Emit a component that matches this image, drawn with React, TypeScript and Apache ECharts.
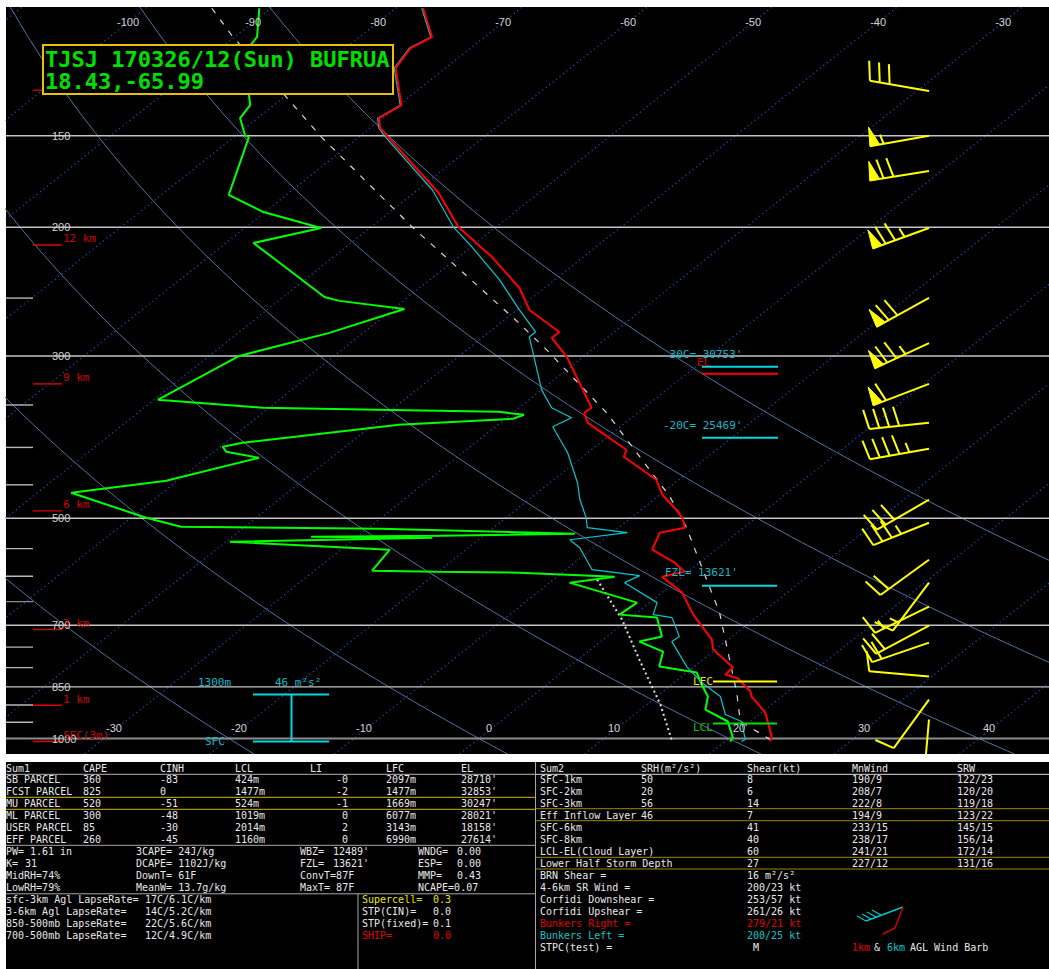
import React, { useEffect, useRef } from "react";
import * as echarts from "echarts";

// ---------------- data ----------------
// environmental temperature (red)
const tempP = [100.4, 109.9, 113.8, 121.2, 136.2, 141.9, 146.4, 149.7, 179.6, 199.9, 219.7, 242.2, 259.5, 278.1, 283.4, 300.8, 353.1, 358.7, 370.2, 403.0, 412.0, 442.9, 464.3, 486.7, 499.1, 515.0, 523.2, 551.9, 574.9, 591.4, 600.9, 631.8, 677.1, 732.5, 755.8, 799.9, 817.7, 828.0, 862.6, 876.3, 921.5, 993.7, 1009.5];
const tempT = [-77.8, -74.2, -74.8, -74.0, -69.8, -70.3, -69.2, -68.0, -58.0, -53.0, -47.3, -42.0, -39.0, -34.4, -34.4, -31.3, -24.2, -24.3, -23.0, -17.2, -16.7, -11.8, -9.8, -7.2, -5.9, -4.7, -6.2, -5.1, -2.0, -0.3, -1.6, 1.6, 4.7, 8.7, 9.8, 13.2, 13.3, 14.7, 17.0, 17.6, 20.3, 23.2, 23.6];
// wet-bulb temperature (cyan)
const wetP = [100.4, 109.9, 113.8, 121.2, 136.2, 141.9, 146.4, 149.7, 177.9, 199.9, 212.9, 236.1, 259.5, 278.1, 282.5, 333.7, 353.1, 364.4, 374.9, 406.8, 447.1, 471.6, 499.1, 515.0, 523.2, 534.9, 548.5, 587.8, 598.9, 612.3, 652.0, 677.1, 683.5, 725.6, 737.1, 797.4, 838.5, 876.3, 927.3, 947.9, 1003.1, 1009.5];
const wetT = [-77.9, -74.3, -74.9, -74.1, -69.9, -70.4, -69.3, -68.2, -58.8, -53.4, -49.9, -44.4, -39.8, -36.3, -36.3, -30.0, -27.4, -24.8, -25.4, -21.6, -17.8, -15.9, -13.6, -12.5, -8.8, -12.7, -11.1, -7.9, -3.5, -4.0, 0.6, 1.5, 3.3, 5.8, 5.7, 9.4, 12.2, 15.1, 17.3, 19.3, 21.4, 21.3];
// dewpoint (green)
const dewP = [100.4, 109.9, 112.8, 132.0, 136.2, 141.9, 149.7, 150.6, 180.7, 190.7, 200.5, 210.2, 221.7, 249.1, 252.2, 258.7, 278.9, 299.9, 344.4, 353.1, 355.4, 357.6, 361.0, 365.6, 372.6, 394.2, 399.2, 405.6, 413.3, 444.3, 461.3, 499.1, 513.4, 516.7, 524.8, 528.2, 529.8, 531.5, 538.2, 551.9, 589.6, 591.4, 593.3, 600.9, 612.3, 652.0, 677.1, 683.5, 725.6, 737.1, 760.6, 797.4, 812.6, 843.8, 876.3, 912.8, 947.9, 996.9, 1009.5];
const dewT = [-90.9, -88.2, -87.9, -83.0, -81.9, -81.4, -79.3, -78.8, -74.6, -70.1, -63.9, -67.8, -64.3, -56.7, -55.1, -49.1, -52.7, -57.6, -59.7, -50.5, -41.2, -31.2, -28.9, -29.4, -37.9, -48.6, -49.8, -49.0, -45.8, -50.9, -57.3, -48.8, -45.1, -29.0, -12.9, -23.5, -33.7, -23.9, -39.7, -26.1, -25.4, -20.1, -13.4, -5.4, -8.4, -1.0, -1.2, 2.1, 4.4, 3.1, 6.0, 7.2, 10.8, 12.4, 14.1, 15.2, 18.2, 20.2, 20.4];
// parcel trace (white dashed)
const parcelP = [100.4, 109.3, 135.3, 150.6, 199.9, 219.7, 267.8, 294.3, 358.7, 467.2, 513.4, 672.8, 865.3, 947.9, 1003.1];
const parcelT = [-94.7, -90.4, -78.8, -73.0, -56.7, -51.0, -39.1, -33.6, -22.5, -9.0, -4.7, 6.6, 16.0, 19.2, 23.4];
// downdraft trace (white dotted)
const downP = [606.5, 687.8, 780.0, 898.6, 1003.1];
const downT = [-6.5, -0.5, 4.9, 11.1, 15.5];
// wind barbs
const windP = [130.3, 150, 167.6, 200.5, 249.8, 288, 327.5, 370, 401.7, 471.6, 507, 569.6, 612.3, 660.3, 700.9, 739.4, 822.8, 884.6, 942];
const windDir = [280, 260, 261, 250, 241, 245, 249, 264, 260, 240, 248, 234, 217, 244, 242, 251, 275, 216, 185];
const windSpd = [30, 55, 70, 75, 70, 75, 60, 40, 45, 30, 35, 20, 15, 15, 20, 20, 10, 10, 10];
// reference lines / ticks
const isobarMajor = [150, 200, 300, 500, 700, 850];
const isobarMinor = [250, 350, 400, 450, 550, 600, 650, 750, 800, 900, 950];
const isotherms = [-110, -100, -90, -80, -70, -60, -50, -40, -30, -20, -10, 0, 10, 20, 30, 40];
const dryAdiabatTheta = [-20, 0, 20, 40, 60, 80];
const pressureLabels = [150, 200, 300, 500, 700, 850, 1000];
const topTempLabels = [-100, -90, -80, -70, -60, -50, -40, -30];
const bottomTempLabels = [-30, -20, -10, 0, 10, 20, 30, 40];
const heightLabels = ["12 km", "9 km", "6 km", "3 km", "1 km", "SFC(3m)"];
const heightP = [211.5, 327.5, 488.4, 709.8, 900.6, 1009.5];
const extraHeightP = [129.9];
// level annotations
const levelText = ["-30C= 30753'", "EL", "-20C= 25469'", "FZL= 13621'", "LFC", "LCL"];
const levelP = [310.4, 317.3, 388.1, 618.1, 835.9, 953.9];
const eilTopP = 870.8;
const eilBottomP = 1009.5;

// summary tables
const sum1Header = ["Sum1", "CAPE", "CINH", "LCL", "LI", "LFC", "EL"];
const parcelNames = ["SB PARCEL", "FCST PARCEL", "MU PARCEL", "ML PARCEL", "USER PARCEL", "EFF PARCEL"];
const parcelCape = ["360", "825", "520", "300", "85", "260"];
const parcelCinh = ["-83", "0", "-51", "-48", "-30", "-45"];
const parcelLcl = ["424m", "1477m", "524m", "1019m", "2014m", "1160m"];
const parcelLi = ["-0", "-2", "-1", "0", "2", "0"];
const parcelLfc = ["2097m", "1477m", "1669m", "6077m", "3143m", "6990m"];
const parcelEl = ["28710'", "32853'", "30247'", "28021'", "18158'", "27614'"];
const lapseNames = ["sfc-3km Agl LapseRate=", "3-6km Agl LapseRate=", "850-500mb LapseRate=", "700-500mb LapseRate="];
const lapseValues = ["17C/6.1C/km", "14C/5.2C/km", "22C/5.6C/km", "12C/4.9C/km"];
const sevNames = ["Supercell=", "STP(CIN)=", "STP(fixed)=", "SHIP="];
const sevValues = ["0.3", "0.0", "0.1", "0.0"];
const sum2Header = ["Sum2", "SRH(m\u00b2/s\u00b2)", "Shear(kt)", "MnWind", "SRW"];
const layerNames = ["SFC-1km", "SFC-2km", "SFC-3km", "Eff Inflow Layer", "SFC-6km", "SFC-8km", "LCL-EL(Cloud Layer)", "Lower Half Storm Depth"];
const layerSrh = ["50", "20", "56", "46", "", "", "", ""];
const layerShear = ["8", "6", "14", "7", "41", "40", "60", "27"];
const layerMnWind = ["190/9", "208/7", "222/8", "194/9", "233/15", "238/17", "241/21", "227/12"];
const layerSrw = ["122/23", "120/20", "119/18", "123/22", "145/15", "156/14", "172/14", "131/16"];
const miscNames = ["BRN Shear =", "4-6km SR Wind =", "Corfidi Downshear =", "Corfidi Upshear =", "Bunkers Right =", "Bunkers Left =", "STPC(test) ="];
const miscValues = ["16 m\u00b2/s\u00b2", "200/23 kt", "253/57 kt", "261/26 kt", "279/21 kt", "200/25 kt", " M"];

// ---------------- helpers ----------------
const SKEW = 31.9;
const P_BOTTOM = 1050;
const P_TOP = 100;
const X_MIN = -37.84;
const X_MAX = 45.6;
const GL = 6, GT = 7, GW = 1043, GH = 747;
const fx = (px: number) => (px - GL) / GW;
const lnP = (p: number) => Math.log(1000 / p);
const skewX = (t: number, p: number) => t + SKEW * lnP(p);
const profile = (ps: number[], ts: number[]) => ps.map((p, i) => [skewX(ts[i], p), lnP(p)]);

const MONO = '"DejaVu Sans Mono", "Liberation Mono", monospace';
const SANS = '"Liberation Sans", "DejaVu Sans", sans-serif';
const CYAN = "#00d8e0";
const CYAN_T = "#10b8c8";
const RED = "#ff0000";
const YEL = "#ffff00";
const GREEN = "#00ff00";
const WHITE = "#e8e8e8";

function seg(data: any[], color: string, width: number, type: any = "solid", xAxisIndex = 0, z = 2) {
  return {
    type: "line", xAxisIndex, yAxisIndex: 0, data, showSymbol: false, symbol: "none",
    silent: true, clip: true, z, lineStyle: { color, width, type }, emphasis: { disabled: true },
  };
}

function textSeries(items: any[], xAxisIndex: number) {
  return {
    type: "custom", xAxisIndex, yAxisIndex: 0, clip: false, silent: true, z: 8,
    data: items.map((it, i) => [it.x, it.L, i]),
    encode: { x: 0, y: 1 },
    renderItem: (_p: any, api: any) => {
      const it = items[api.value(2)];
      const c = api.coord([api.value(0), api.value(1)]);
      return {
        type: "text", x: c[0] + (it.dx || 0), y: c[1] + (it.dy || 0),
        style: { text: it.text, fill: it.color, font: it.font, align: it.align, verticalAlign: "middle", textAlign: it.align, textVerticalAlign: "middle" },
      };
    },
  };
}

function barbRender(_p: any, api: any) {
  const c = api.coord([api.value(0), api.value(1)]);
  const d = (api.value(2) * Math.PI) / 180;
  let r = Math.round(api.value(3) / 5) * 5;
  const ux = Math.sin(d), uy = -Math.cos(d);
  const px = -uy, py = ux;
  const tl = 0.21;
  const bx = Math.cos(tl) * px + Math.sin(tl) * ux;
  const by = Math.cos(tl) * py + Math.sin(tl) * uy;
  const LEN = 60, BL = 20;
  const tip = [c[0] + ux * LEN, c[1] + uy * LEN];
  const at = (s: number) => [tip[0] - ux * s, tip[1] - uy * s];
  const st = { stroke: YEL, lineWidth: 2 };
  const kids: any[] = [{ type: "line", shape: { x1: c[0], y1: c[1], x2: tip[0], y2: tip[1] }, style: st }];
  let pos = 0;
  const np = Math.floor(r / 50); r -= np * 50;
  for (let i = 0; i < np; i++) {
    const a = at(pos), b = at(pos + 10), q = at(pos + 2);
    kids.push({ type: "polygon", shape: { points: [a, [q[0] + px * 19, q[1] + py * 19], b] }, style: { fill: YEL, stroke: YEL, lineWidth: 1 } });
    pos += 10;
  }
  if (np > 0) pos += 4;
  const nf = Math.floor(r / 10); r -= nf * 10;
  for (let i = 0; i < nf; i++) {
    const a = at(pos);
    kids.push({ type: "line", shape: { x1: a[0], y1: a[1], x2: a[0] + bx * BL, y2: a[1] + by * BL }, style: st });
    pos += 10;
  }
  if (r >= 5) {
    if (np === 0 && nf === 0) pos = 9;
    const a = at(pos);
    kids.push({ type: "line", shape: { x1: a[0], y1: a[1], x2: a[0] + bx * BL * 0.5, y2: a[1] + by * BL * 0.5 }, style: st });
  }
  return { type: "group", children: kids };
}

function buildOption() {
  const series: any[] = [];
  // isotherms (dotted)
  isotherms.forEach((t) => series.push(seg([[skewX(t, P_BOTTOM), lnP(P_BOTTOM)], [skewX(t, P_TOP), lnP(P_TOP)]], "#1a52c0", 1.2, [1.2, 3.2])));
  // dry adiabats
  const pl: number[] = [];
  for (let p = P_BOTTOM; p >= P_TOP; p -= 10) pl.push(p);
  dryAdiabatTheta.forEach((th) =>
    series.push(seg(pl.map((p) => [skewX((th + 273.15) * Math.pow(p / 1000, 0.2857) - 273.15, p), lnP(p)]), "#4a76a4", 1))
  );
  // isobars
  isobarMajor.forEach((p) => series.push(seg([[X_MIN, lnP(p)], [X_MAX, lnP(p)]], "#c4c4c4", 1.4)));
  series.push(seg([[X_MIN, lnP(1000)], [X_MAX, lnP(1000)]], "#8c8c8c", 2));
  isobarMinor.forEach((p) => series.push(seg([[0, lnP(p)], [fx(33), lnP(p)]], p === 650 ? "#8c8c8c" : "#b8b8b8", 1.4, "solid", 1)));
  // height markers
  heightP.concat(extraHeightP).forEach((p) => series.push(seg([[fx(33), lnP(p)], [fx(62), lnP(p)]], "#e00000", 1.4, "solid", 1)));
  // profiles
  series.push(seg(profile(downP, downT), "#e0e0e0", 2, [2, 3], 0, 3));
  series.push(seg(profile(parcelP, parcelT), "#d8d8d8", 1.2, [6, 8], 0, 3));
  series.push(seg(profile(dewP, dewT), GREEN, 2, "solid", 0, 4));
  series.push(seg(profile(wetP, wetT), "#00c8d0", 1.2, "solid", 0, 4));
  series.push(seg(profile(tempP, tempT), RED, 2, "solid", 0, 5));
  // level annotation lines
  const lvlColors = [CYAN, RED, CYAN, CYAN, YEL, "#00e000"];
  const lvlX0 = [702, 702, 702, 702, 713, 713];
  const lvlX1 = [778, 778, 778, 777, 777, 777];
  levelP.forEach((p, i) => series.push(seg([[fx(lvlX0[i]), lnP(p)], [fx(lvlX1[i]), lnP(p)]], lvlColors[i], 2, "solid", 1, 6)));
  // effective inflow layer bracket
  series.push(seg([[fx(253), lnP(eilTopP)], [fx(329), lnP(eilTopP)]], CYAN, 2, "solid", 1, 6));
  series.push(seg([[fx(253), lnP(eilBottomP)], [fx(329), lnP(eilBottomP)]], CYAN, 2, "solid", 1, 6));
  series.push(seg([[fx(291.5), lnP(eilTopP)], [fx(291.5), lnP(eilBottomP)]], CYAN, 2, "solid", 1, 6));

  // labels on pixel-fraction axis
  const lab1: any[] = [];
  pressureLabels.forEach((p) => lab1.push({ x: fx(52), L: lnP(p), text: String(p), color: "#d4d4d4", font: `11px ${SANS}`, align: "left" }));
  heightLabels.forEach((t, i) => lab1.push({ x: fx(63), L: lnP(heightP[i]), dy: -6, text: t, color: "#d00000", font: `11px ${MONO}`, align: "left" }));
  const lvlTextX = [663, 697, 663, 665, 693, 693];
  const lvlDy = [-12, -11, -12, -13, 0, 4];
  const lvlTextC = [CYAN_T, "#c80000", CYAN_T, CYAN_T, "#e6e600", "#00c800"];
  levelText.forEach((t, i) => lab1.push({ x: fx(lvlTextX[i]), L: lnP(levelP[i]), dy: lvlDy[i], text: t, color: lvlTextC[i], font: `11px ${MONO}`, align: "left" }));
  lab1.push({ x: fx(198), L: lnP(eilTopP), dy: -12, text: "1300m", color: CYAN_T, font: `11px ${MONO}`, align: "left" });
  lab1.push({ x: fx(275), L: lnP(eilTopP), dy: -12, text: "46 m\u00b2s\u00b2", color: CYAN_T, font: `11px ${MONO}`, align: "left" });
  lab1.push({ x: fx(205), L: lnP(eilBottomP), dy: 0, text: "SFC", color: CYAN_T, font: `11px ${MONO}`, align: "left" });
  series.push(textSeries(lab1, 1));

  const lab0: any[] = [];
  topTempLabels.forEach((t) => lab0.push({ x: skewX(t, 104.9), L: lnP(104.9), text: String(t), color: "#d4d4d4", font: `11px ${SANS}`, align: "center" }));
  bottomTempLabels.forEach((t) => lab0.push({ x: skewX(t, 975.2), L: lnP(975.2), dy: -3, text: String(t), color: "#d4d4d4", font: `11px ${SANS}`, align: "center" }));
  series.push(textSeries(lab0, 0));

  // wind barbs
  series.push({
    type: "custom", xAxisIndex: 1, yAxisIndex: 0, clip: true, silent: true, z: 7,
    data: windP.map((p, i) => [fx(929), lnP(p), windDir[i], windSpd[i]]),
    encode: { x: 0, y: 1 },
    renderItem: barbRender,
  });

  // ------------ graphic: title + tables ------------
  const g: any[] = [];
  const TF = `10px ${MONO}`;
  const txt = (x: number, y: number, text: string, fill = WHITE, align = "left") =>
    g.push({ type: "text", x, y, z: 100, silent: true, style: { text, fill, font: TF, align, verticalAlign: "middle", textAlign: align, textVerticalAlign: "middle" } });
  const hl = (x1: number, x2: number, y: number, stroke: string, w = 1) =>
    g.push({ type: "line", z: 100, silent: true, shape: { x1, y1: y, x2, y2: y }, style: { stroke, lineWidth: w } });
  const vl = (x: number, y1: number, y2: number, stroke: string, w = 1) =>
    g.push({ type: "line", z: 100, silent: true, shape: { x1: x, y1, x2: x, y2 }, style: { stroke, lineWidth: w } });

  // title box
  g.push({ type: "rect", z: 100, silent: true, shape: { x: 43, y: 45, width: 350, height: 49 }, style: { fill: "#000", stroke: "#e8c000", lineWidth: 2 } });
  g.push({ type: "text", x: 45, y: 59, z: 101, silent: true, style: { text: "TJSJ 170326/12(Sun) BUFRUA", fill: "#00e000", font: `bold 22px ${MONO}`, align: "left", verticalAlign: "middle", textAlign: "left", textVerticalAlign: "middle" } });
  g.push({ type: "text", x: 45, y: 81, z: 101, silent: true, style: { text: "18.43,-65.99", fill: "#00e000", font: `bold 22px ${MONO}`, align: "left", verticalAlign: "middle", textAlign: "left", textVerticalAlign: "middle" } });

  // table background
  g.push({ type: "rect", z: 99, silent: true, shape: { x: 6, y: 762, width: 1043, height: 207 }, style: { fill: "#000" } });
  const R = [768, 779.5, 791.5, 803.5, 815.5, 827.5, 839.5, 851.5, 863.5, 875.5, 887.5, 899.5, 911.5, 923.5, 935.5, 947.5];
  // left table
  const c1 = [6, 83, 160, 235, 310, 386, 461];
  sum1Header.forEach((h, i) => txt(c1[i], R[0], h));
  parcelNames.forEach((n, i) => {
    const y = R[i + 1];
    txt(6, y, n); txt(83, y, parcelCape[i]); txt(160, y, parcelCinh[i]); txt(235, y, parcelLcl[i]);
    txt(348, y, parcelLi[i], WHITE, "right"); txt(386, y, parcelLfc[i]); txt(461, y, parcelEl[i]);
  });
  txt(6, R[7], "PW="); txt(30, R[7], "1.61 in"); txt(136, R[7], "3CAPE= 24J/kg"); txt(300, R[7], "WBZ="); txt(333, R[7], "12489'"); txt(418, R[7], "WNDG="); txt(457, R[7], "0.00");
  txt(6, R[8], "K="); txt(25, R[8], "31"); txt(136, R[8], "DCAPE= 1102J/kg"); txt(300, R[8], "FZL="); txt(333, R[8], "13621'"); txt(418, R[8], "ESP="); txt(457, R[8], "0.00");
  txt(6, R[9], "MidRH=74%"); txt(136, R[9], "DownT= 61F"); txt(300, R[9], "ConvT=87F"); txt(418, R[9], "MMP="); txt(457, R[9], "0.43");
  txt(6, R[10], "LowRH=79%"); txt(136, R[10], "MeanW= 13.7g/kg"); txt(300, R[10], "MaxT= 87F"); txt(418, R[10], "NCAPE=0.07");
  const sevColors = ["#e6e600", WHITE, WHITE, "#e00000"];
  lapseNames.forEach((n, i) => {
    txt(6, R[11 + i], n); txt(145, R[11 + i], lapseValues[i]);
    txt(362, R[11 + i], sevNames[i], sevColors[i]); txt(433, R[11 + i], sevValues[i], sevColors[i]);
  });
  hl(6, 535, 774.3, "#b4b4b4");
  hl(6, 535, 797.3, "#d8b400");
  hl(6, 535, 809.3, "#d8b400");
  hl(6, 535, 845.3, "#a8a8a8");
  hl(6, 535, 893.8, "#a8a8a8");
  vl(358, 894, 969, "#a8a8a8");
  vl(535.5, 762, 969, "#a8a8a8");
  // right table
  const c2 = [540, 641, 747, 852, 957];
  sum2Header.forEach((h, i) => txt(c2[i], R[0], h));
  layerNames.forEach((n, i) => {
    const y = R[i + 1];
    txt(540, y, n); if (layerSrh[i]) txt(641, y, layerSrh[i]); txt(747, y, layerShear[i]); txt(852, y, layerMnWind[i]); txt(957, y, layerSrw[i]);
  });
  const miscColors = [WHITE, WHITE, WHITE, WHITE, "#e00000", "#00c8c8", WHITE];
  miscNames.forEach((n, i) => {
    txt(540, R[9 + i], n, miscColors[i]); txt(747, R[9 + i], miscValues[i], miscColors[i]);
  });
  hl(536, 1049, 774.3, "#dcdcdc");
  hl(536, 1049, 808.7, "#a08800");
  hl(536, 1049, 820.7, "#a08800");
  hl(536, 1049, 857.3, "#a08800");
  hl(536, 1049, 869, "#a08800");
  // mini 1km & 6km barb
  g.push({ type: "polyline", z: 100, silent: true, shape: { points: [[903, 907], [866, 921]] }, style: { stroke: "#00c8c8", lineWidth: 1.5, fill: null } });
  [[866, 921], [871, 919], [876, 917], [881, 915]].forEach((p) =>
    g.push({ type: "line", z: 100, silent: true, shape: { x1: p[0], y1: p[1], x2: p[0] - 9, y2: p[1] - 5 }, style: { stroke: "#00c8c8", lineWidth: 1.2 } })
  );
  g.push({ type: "polyline", z: 100, silent: true, shape: { points: [[903, 907], [895, 928], [883, 934]] }, style: { stroke: "#d00000", lineWidth: 1.5, fill: null } });
  txt(852, R[15], "1km", "#e00000"); txt(874, R[15], "&"); txt(887, R[15], "6km", "#00c8c8"); txt(910, R[15], "AGL Wind Barb");

  return {
    animation: false,
    backgroundColor: "#ffffff",
    grid: { left: GL, top: GT, width: GW, height: GH, show: true, backgroundColor: "#000000", borderWidth: 0 },
    xAxis: [
      { type: "value", min: X_MIN, max: X_MAX, show: false },
      { type: "value", min: 0, max: 1, show: false },
    ],
    yAxis: [{ type: "value", min: lnP(P_BOTTOM), max: lnP(P_TOP), show: false }],
    series,
    graphic: { elements: g },
  };
}

export default function App() {
  const ref = useRef<HTMLDivElement>(null);
  useEffect(() => {
    document.body.style.margin = "0";
    const chart = echarts.init(ref.current as HTMLDivElement, null, { renderer: "svg" });
    chart.setOption(buildOption() as any);
    return () => chart.dispose();
  }, []);
  return <div ref={ref} style={{ width: 1049, height: 969, background: "#ffffff" }} />;
}
